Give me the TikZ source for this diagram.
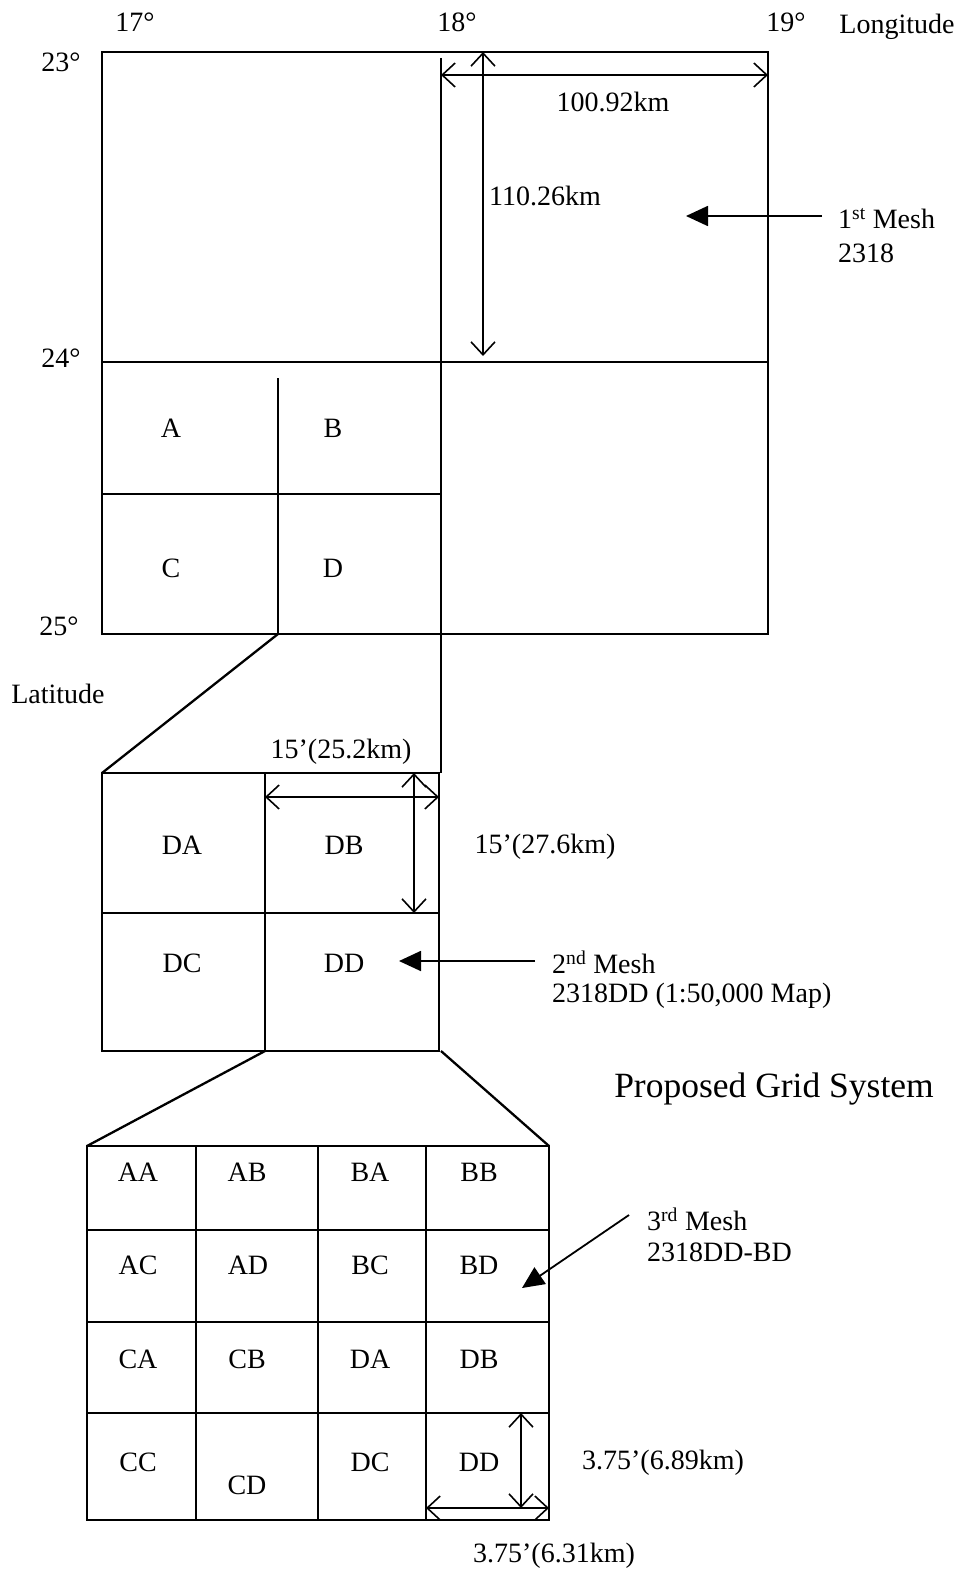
\documentclass[tikz,border=0pt]{standalone}
\usepackage{fontspec}
\setmainfont{Liberation Serif}
\usetikzlibrary{arrows.meta}
\begin{document}
\begin{tikzpicture}[x=1pt,y=-1pt,
  frame/.style={line width=2.8pt},
  inner/.style={line width=2.3pt},
  thinline/.style={line width=1.2pt},
  dimarrow/.style={line width=1.6pt,{Straight Barb[length=13pt,width=24pt,line width=1.6pt]}-{Straight Barb[length=13pt,width=24pt,line width=1.6pt]}},
  pointer/.style={line width=1.8pt,-{Triangle[length=22pt,width=20pt]}},
  lbl/.style={font=\fontsize{28}{32}\selectfont, inner sep=0pt},
  biglbl/.style={font=\fontsize{35.5}{38}\selectfont, inner sep=0pt}]
\useasboundingbox (0,0) rectangle (962,1573);

% ---------- 1st mesh ----------
\coordinate (R1nw) at (102,52);
\coordinate (R1se) at (768,634);
\draw[frame] (R1nw) rectangle (R1se);
\coordinate (h24w) at (102,362);
\coordinate (h24e) at (768,362);
\draw[frame] (h24w) -- (h24e);
\coordinate (v18t) at (441,58);
\coordinate (v18b) at (441,634);
\coordinate (v18x) at (441,773);
\draw[inner] (v18t) -- (v18b);
\draw[thinline] (v18b) -- (v18x);
\coordinate (vqt) at (278,378);
\coordinate (vqb) at (278,634);
\draw[inner] (vqt) -- (vqb);
\coordinate (hqw) at (102,494);
\coordinate (hqe) at (441,494);
\draw[inner] (hqw) -- (hqe);

\node[lbl] (t17) at (135,22) {17°};
\node[lbl] (t18) at (457,22) {18°};
\node[lbl] (t19) at (786,22) {19°};
\node[lbl] (tlon) at (897,27) {Longitude};
\node[lbl] (t23) at (61,62) {23°};
\node[lbl] (t24) at (61,358) {24°};
\node[lbl] (t25) at (59,626) {25°};
\node[lbl] (tlat) at (58,694) {Latitude};

\node[lbl] (qA) at (171,428) {A};
\node[lbl] (qB) at (333,428) {B};
\node[lbl] (qC) at (171,568) {C};
\node[lbl] (qD) at (333,568) {D};

\coordinate (w1a) at (441,75);
\coordinate (w1b) at (768,75);
\draw[dimarrow] (w1a) -- (w1b);
\node[lbl] (w1) at (613,102) {100.92km};
\coordinate (h1a) at (483,52);
\coordinate (h1b) at (483,356);
\draw[dimarrow] (h1a) -- (h1b);
\node[lbl] (h1) at (545,196) {110.26km};

\coordinate (p1s) at (822,216);
\coordinate (p1e) at (686,216);
\draw[pointer] (p1s) -- (p1e);
\node[lbl,anchor=west] (m1a) at (838,219) {1\textsuperscript{st} Mesh};
\node[lbl,anchor=west] (m1b) at (838,253) {2318};

% ---------- 2nd mesh ----------
\coordinate (z1a) at (278,634);
\coordinate (z1b) at (102,773);
\draw[inner] (z1a) -- (z1b);

\coordinate (R2nw) at (102,773);
\coordinate (R2se) at (439,1051);
\draw[frame] (R2nw) rectangle (R2se);
\coordinate (h2w) at (102,913);
\coordinate (h2e) at (439,913);
\draw[frame] (h2w) -- (h2e);
\coordinate (v2t) at (265,773);
\coordinate (v2b) at (265,1051);
\draw[inner] (v2t) -- (v2b);

\node[lbl] (sDA) at (182,845) {DA};
\node[lbl] (sDB) at (344,845) {DB};
\node[lbl] (sDC) at (182,963) {DC};
\node[lbl] (sDD) at (344,963) {DD};

\node[lbl] (w2) at (341,752) {15’(25.2km)};
\coordinate (w2a) at (265,797);
\coordinate (w2b) at (439,797);
\draw[dimarrow] (w2a) -- (w2b);
\coordinate (h2a) at (414,773);
\coordinate (h2b) at (414,913);
\draw[dimarrow] (h2a) -- (h2b);
\node[lbl] (h2) at (545,847) {15’(27.6km)};

\coordinate (p2s) at (535,961);
\coordinate (p2e) at (399,961);
\draw[pointer] (p2s) -- (p2e);
\node[lbl,anchor=west] (m2a) at (552,962) {2\textsuperscript{nd} Mesh};
\node[lbl,anchor=west] (m2b) at (552,996) {2318DD (1:50,000 Map)};

\node[biglbl] (title) at (774,1089) {Proposed Grid System};

% ---------- 3rd mesh ----------
\coordinate (z2a) at (265,1051);
\coordinate (z2b) at (87,1146);
\draw[inner] (z2a) -- (z2b);
\coordinate (z3a) at (441,1051);
\coordinate (z3b) at (549,1146);
\draw[inner] (z3a) -- (z3b);

\coordinate (R3nw) at (87,1146);
\coordinate (R3se) at (549,1520);
\draw[frame] (R3nw) rectangle (R3se);
\foreach \cx in {196,318,426} {
  \coordinate (c\cx t) at (\cx,1146);
  \coordinate (c\cx b) at (\cx,1520);
  \draw[inner] (c\cx t) -- (c\cx b);
}
\foreach \ry in {1230,1322,1413} {
  \coordinate (r\ry w) at (87,\ry);
  \coordinate (r\ry e) at (549,\ry);
  \draw[inner] (r\ry w) -- (r\ry e);
}

\node[lbl] (tAA) at (138,1172) {AA};
\node[lbl] (tAB) at (247,1172) {AB};
\node[lbl] (tBA) at (370,1172) {BA};
\node[lbl] (tBB) at (479,1172) {BB};
\node[lbl] (tAC) at (138,1265) {AC};
\node[lbl] (tAD) at (248,1265) {AD};
\node[lbl] (tBC) at (370,1265) {BC};
\node[lbl] (tBD) at (479,1265) {BD};
\node[lbl] (tCA) at (138,1359) {CA};
\node[lbl] (tCB) at (247,1359) {CB};
\node[lbl] (tDA) at (370,1359) {DA};
\node[lbl] (tDB) at (479,1359) {DB};
\node[lbl] (tCC) at (138,1462) {CC};
\node[lbl] (tCD) at (247,1485) {CD};
\node[lbl] (tDC) at (370,1462) {DC};
\node[lbl] (tDD) at (479,1462) {DD};

\coordinate (p3s) at (629,1215);
\coordinate (p3e) at (522,1288);
\draw[pointer] (p3s) -- (p3e);
\node[lbl,anchor=west] (m3a) at (647,1219) {3\textsuperscript{rd} Mesh};
\node[lbl,anchor=west] (m3b) at (647,1252) {2318DD-BD};

\coordinate (h3a) at (521,1413);
\coordinate (h3b) at (521,1508);
\draw[dimarrow] (h3a) -- (h3b);
\coordinate (w3a) at (426,1508);
\coordinate (w3b) at (549,1508);
\draw[dimarrow] (w3a) -- (w3b);
\node[lbl] (h3) at (663,1463) {3.75’(6.89km)};
\node[lbl] (w3) at (554,1556) {3.75’(6.31km)};
\end{tikzpicture}
\end{document}
